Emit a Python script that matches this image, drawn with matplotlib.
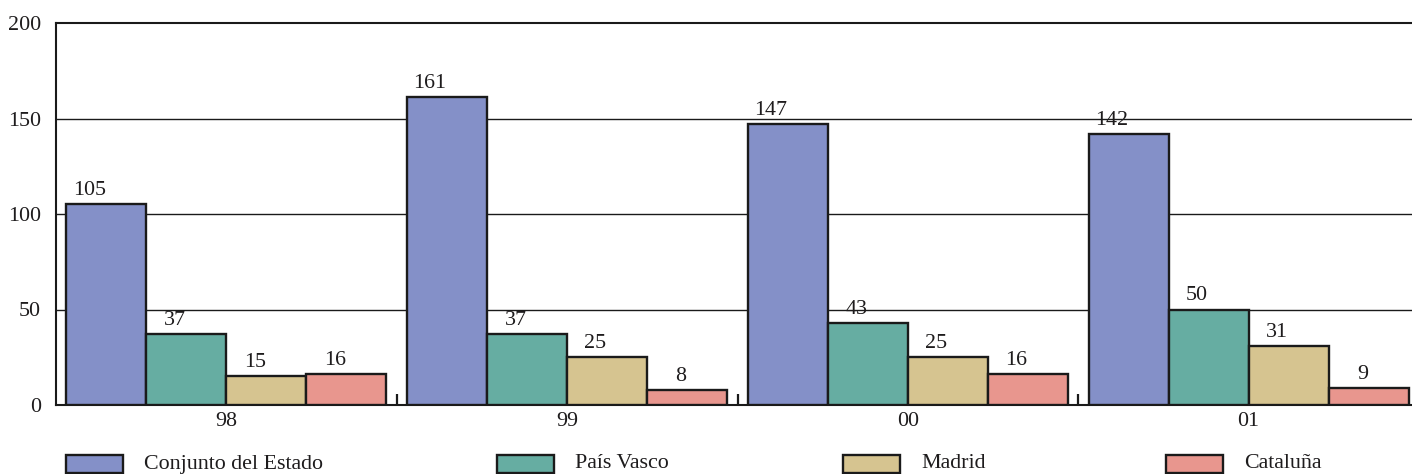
import matplotlib
matplotlib.use("Agg")
import matplotlib.pyplot as plt
from matplotlib.patches import Rectangle
import numpy as np

years = ["98", "99", "00", "01"]
series = ["Conjunto del Estado", "País Vasco", "Madrid", "Cataluña"]
conjunto = [105, 161, 147, 142]
pais_vasco = [37, 37, 43, 50]
madrid = [15, 25, 25, 31]
cataluna = [16, 8, 16, 9]
values = [conjunto, pais_vasco, madrid, cataluna]
colors = ["#8490C8", "#66ADA2", "#D6C490", "#E8968E"]
y_ticks = [0, 50, 100, 150, 200]

plt.rcParams['font.family'] = ['Liberation Serif', 'DejaVu Serif']
FS = 15.8
TXT = "#1e1c1d"

W, H = 1412, 474
fig = plt.figure(figsize=(W / 100, H / 100), dpi=100)
ax = fig.add_axes([56 / W, 1 - 405 / H, (1419 - 56) / W, (405 - 23) / H])

x = np.arange(len(years))
bw = 0.2347
for i, (vals, col) in enumerate(zip(values, colors)):
    pos = x + (i - 1.5) * bw
    ax.bar(pos, vals, width=bw, color=col, edgecolor="#1a1a1a", linewidth=1.7, zorder=3)
    for p, v in zip(pos, vals):
        ax.annotate(str(v), (p, v), xytext=(-0.5, 3), textcoords="offset points",
                    ha="right", va="bottom", fontsize=FS, color=TXT, zorder=4)

ax.set_xlim(-0.5, 3.5)
ax.set_ylim(0, 200)
ax.set_yticks(y_ticks)
ax.set_yticklabels([str(t) for t in y_ticks], fontsize=FS, color=TXT)
ax.tick_params(axis="y", length=0, pad=11)
ax.set_xticks(x)
ax.set_xticklabels(years, fontsize=FS, color=TXT)
ax.tick_params(axis="x", which="major", length=0, pad=5)
ax.set_xticks([0.5, 1.5, 2.5], minor=True)
ax.tick_params(axis="x", which="minor", direction="in", length=8, width=1.6, color="#1a1a1a")

for y in [50, 100, 150]:
    ax.axhline(y, color="#1a1a1a", linewidth=1.0, zorder=1)

for s in ["left", "bottom", "top"]:
    ax.spines[s].set_linewidth(1.5)
    ax.spines[s].set_color("#1a1a1a")
ax.spines["right"].set_visible(False)

# legend
leg_x = [66, 497, 843, 1166]
pw, ph = 57, 18
for lx, name, col in zip(leg_x, series, colors):
    fig.add_artist(Rectangle((lx / W, 1 - 473 / H), pw / W, ph / H,
                             transform=fig.transFigure, facecolor=col,
                             edgecolor="#1a1a1a", linewidth=1.7))
    fig.text((lx + pw + 21) / W, 1 - 464 / H, name, fontsize=FS, color=TXT,
             ha="left", va="center")

fig.savefig("out.png", dpi=100)
